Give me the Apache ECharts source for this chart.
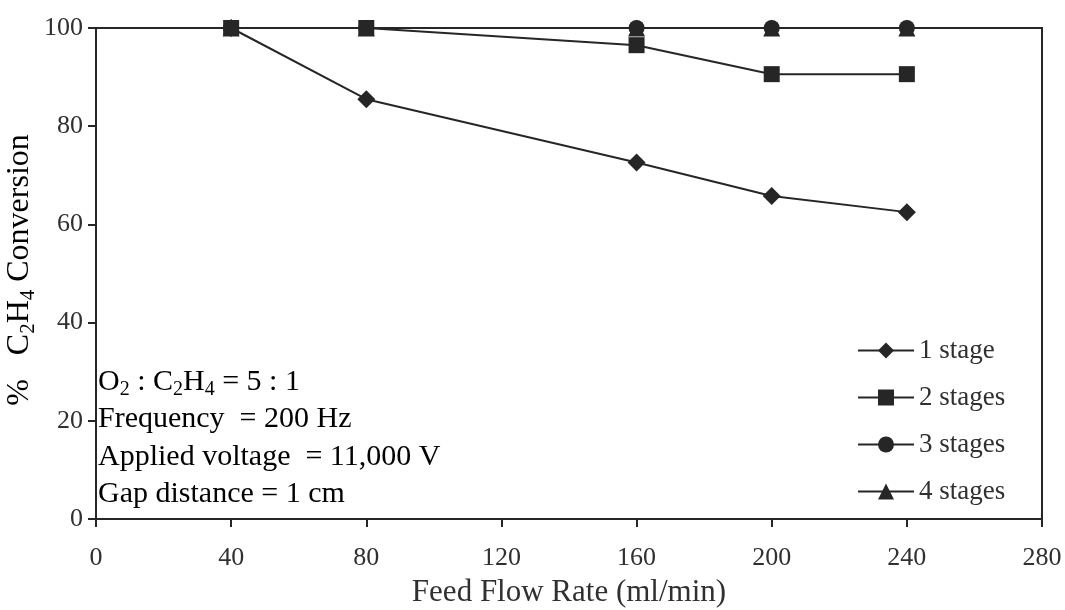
<!DOCTYPE html>
<html>
<head>
<meta charset="utf-8">
<script src="https://cdn.jsdelivr.net/npm/echarts@6/dist/echarts.min.js"></script>
<style>
  html, body { margin: 0; padding: 0; background: #fff; }
  #chart { width: 1065px; height: 610px; }
</style>
</head>
<body>
<div id="chart"></div>
<script>
// Feed flow rate (ml/min) and % C2H4 conversion for each number of reactor stages
const flowRates = [40, 80, 160, 200, 240];
const stage1 = [100, 85.5, 72.6, 65.8, 62.5];
const stage2 = [100, 100, 96.5, 90.6, 90.6];
const stage3 = [100, 100, 100, 100, 100];
const stage4 = [100, 100, 100, 100, 100];
const seriesNames = ['1 stage', '2 stages', '3 stages', '4 stages'];
const seriesSymbols = ['diamond', 'rect', 'circle', 'triangle'];
const conditionLines = [
  '{t|O}{s|2}{t| : C}{s|2}{t|H}{s|4}{t| = 5 : 1}',
  '{t|Frequency  = 200 Hz}',
  '{t|Applied voltage  = 11,000 V}',
  '{t|Gap distance = 1 cm}'
];

const FONT = '"Liberation Serif", "Times New Roman", serif';
const INK = '#262626';
const TEXT = '#303030';

const chart = echarts.init(document.getElementById('chart'), null, { renderer: 'canvas' });

const allValues = [stage1, stage2, stage3, stage4];
const symbolSizes = [18, 16, 16, 17];
// later series paint over earlier ones: circles, then triangles, then squares on top
const drawOrder = [0, 2, 3, 1];

const series = drawOrder.map(i => ({
  name: seriesNames[i],
  type: 'line',
  data: flowRates.map((x, j) => [x, allValues[i][j]]),
  symbol: seriesSymbols[i],
  symbolSize: symbolSizes[i],
  showAllSymbol: true,
  z: 2,
  lineStyle: { color: INK, width: 2 },
  itemStyle: { color: INK, borderWidth: 0 },
  emphasis: { disabled: true },
  animation: false
}));

const richText = {
  t: { fontFamily: FONT, fontSize: 30, color: TEXT, lineHeight: 36, verticalAlign: 'middle' },
  s: { fontFamily: FONT, fontSize: 20, color: TEXT, lineHeight: 36, verticalAlign: 'bottom' }
};
const titleRich = {
  t: { fontFamily: FONT, fontSize: 32, color: TEXT, lineHeight: 38, verticalAlign: 'middle' },
  s: { fontFamily: FONT, fontSize: 21, color: TEXT, lineHeight: 38, verticalAlign: 'bottom' }
};

const graphics = conditionLines.map((line, i) => ({
  type: 'text',
  left: 98,
  top: 367 + i * 37.5,
  style: { text: line, rich: richText }
}));

// y-axis title with subscripts, rotated
graphics.push({
  type: 'text',
  x: 20,
  y: 270,
  rotation: Math.PI / 2,
  style: {
    text: '{t|%   C}{s|2}{t|H}{s|4}{t| Conversion}',
    rich: titleRich,
    align: 'center',
    verticalAlign: 'middle'
  }
});

const option = {
  backgroundColor: '#ffffff',
  animation: false,
  grid: {
    left: 96, right: 23, top: 28, bottom: 91,
    containLabel: false,
    outerBoundsMode: 'none',
    show: true, borderColor: INK, borderWidth: 2, backgroundColor: 'transparent'
  },
  xAxis: {
    type: 'value',
    min: 0, max: 280, interval: 40,
    name: 'Feed Flow Rate (ml/min)',
    nameLocation: 'middle',
    nameGap: 58,
    nameTextStyle: { fontFamily: FONT, fontSize: 31, color: TEXT },
    axisLine: { show: true, onZero: false, lineStyle: { color: INK, width: 2 } },
    axisTick: { show: true, inside: false, length: 8, lineStyle: { color: INK, width: 2 } },
    axisLabel: { margin: 26, fontFamily: FONT, fontSize: 26, color: TEXT },
    splitLine: { show: false }
  },
  yAxis: {
    type: 'value',
    min: 0, max: 100, interval: 20,
    axisLine: { show: true, lineStyle: { color: INK, width: 2 } },
    axisTick: { show: true, inside: false, length: 8, lineStyle: { color: INK, width: 2 } },
    axisLabel: { margin: 13, fontFamily: FONT, fontSize: 26, color: TEXT },
    splitLine: { show: false }
  },
  legend: {
    orient: 'vertical',
    left: 852,
    top: 332,
    itemWidth: 56,
    itemHeight: 20,
    itemGap: 20,
    selectedMode: false,
    data: seriesNames,
    textStyle: { fontFamily: FONT, fontSize: 27, color: TEXT, lineHeight: 27 }
  },
  graphic: graphics,
  series: series
};

chart.setOption(option);
</script>
</body>
</html>
